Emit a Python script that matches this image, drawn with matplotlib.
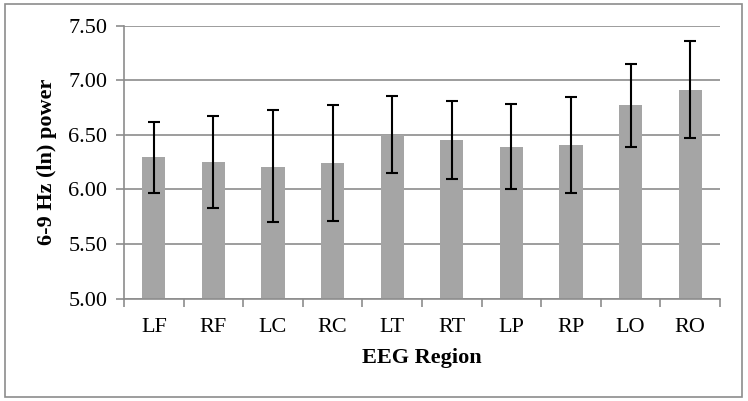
import numpy as np
import matplotlib.pyplot as plt
from matplotlib.patches import Rectangle

regions = ['LF', 'RF', 'LC', 'RC', 'LT', 'RT', 'LP', 'RP', 'LO', 'RO']
power = [6.30, 6.25, 6.21, 6.24, 6.50, 6.45, 6.39, 6.41, 6.77, 6.91]
err_up = [0.32, 0.42, 0.52, 0.53, 0.36, 0.36, 0.39, 0.44, 0.38, 0.45]
err_down = [0.33, 0.42, 0.51, 0.53, 0.35, 0.35, 0.39, 0.44, 0.38, 0.44]

plt.rcParams['font.family'] = ['Liberation Serif', 'DejaVu Serif']

fig = plt.figure(figsize=(7.48, 4.01), dpi=100)
ax = fig.add_axes([0.1658, 0.2551, 0.7968, 0.6809])

# grey outer frame like the spreadsheet chart area
fig.patches.append(Rectangle((5 / 748, 4 / 401), 737 / 748, 393 / 401,
                             transform=fig.transFigure, fill=False,
                             edgecolor='#8c8c8c', linewidth=1.2))

x = np.arange(len(regions))
ax.bar(x, np.array(power) - 5.0, bottom=5.0, width=0.39, color='#a5a5a5', zorder=2)
ax.errorbar(x, power, yerr=[err_down, err_up], fmt='none', ecolor='black',
            elinewidth=1.5, capsize=4.5, capthick=1.5, zorder=3)

ax.set_xlim(-0.5, len(regions) - 0.5)
ax.set_ylim(5.0, 7.5)
ax.set_yticks(np.arange(5.0, 7.51, 0.5))
ax.set_yticklabels(['%.2f' % v for v in np.arange(5.0, 7.51, 0.5)], fontsize=16)
ax.yaxis.grid(True, color='#8c8c8c', linewidth=1.2, zorder=0)
ax.set_axisbelow(True)

ax.set_xticks(x)
ax.set_xticklabels(regions, fontsize=16)
ax.set_xticks(np.arange(-0.5, len(regions), 1.0), minor=True)
ax.tick_params(axis='x', which='major', length=0, pad=14)
ax.tick_params(axis='x', which='minor', length=6, color='#8c8c8c', width=1.2)
ax.tick_params(axis='y', length=6, color='#8c8c8c', width=1.2, pad=6)

for side in ['top', 'right']:
    ax.spines[side].set_visible(False)
for side in ['left', 'bottom']:
    ax.spines[side].set_color('#8c8c8c')
    ax.spines[side].set_linewidth(1.2)

ax.set_xlabel('EEG Region', fontsize=16, fontweight='bold', labelpad=8)
ax.set_ylabel('6-9 Hz (ln) power', fontsize=16, fontweight='bold', labelpad=8)

fig.savefig('out.png', dpi=100)
